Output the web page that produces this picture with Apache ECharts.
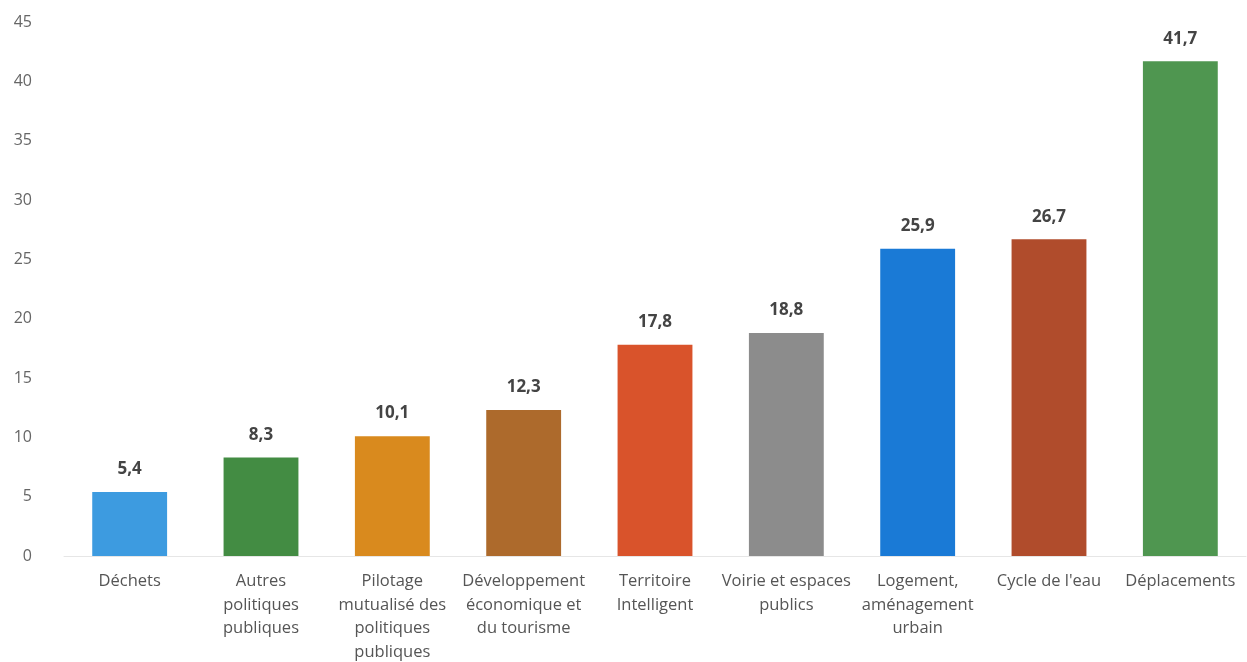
<!DOCTYPE html>
<html>
<head>
<meta charset="utf-8">
<script src="https://cdn.jsdelivr.net/npm/echarts@6/dist/echarts.min.js"></script>
<style>html,body{margin:0;padding:0;background:#fff;}#c{width:1247px;height:662px;}</style>
</head>
<body>
<div id="c"></div>
<script>
const categories = [
  "Déchets",
  "Autres\npolitiques\npubliques",
  "Pilotage\nmutualisé des\npolitiques\npubliques",
  "Développement\néconomique et\ndu tourisme",
  "Territoire\nIntelligent",
  "Voirie et espaces\npublics",
  "Logement,\naménagement\nurbain",
  "Cycle de l'eau",
  "Déplacements"
];
const values = [5.4, 8.3, 10.1, 12.3, 17.8, 18.8, 25.9, 26.7, 41.7];
const barColors = ["#3d9be0", "#438c43", "#d98a1e", "#ad6a2c", "#d9532b", "#8c8c8c", "#1a7ad6", "#b04c2c", "#4f9650"];
const yTicks = [0, 5, 10, 15, 20, 25, 30, 35, 40, 45];

const chart = echarts.init(document.getElementById('c'));
chart.setOption({
  animation: false,
  grid: { left: 64, right: 1, top: 22, bottom: 106, outerBoundsMode: 'none', containLabel: false },
  xAxis: {
    type: 'category',
    data: categories,
    axisLine: { show: true, lineStyle: { color: '#e6e6e6' } },
    axisTick: { show: false },
    axisLabel: {
      interval: 0, margin: 14,
      fontFamily: 'Open Sans', fontSize: 16.5, color: '#555', lineHeight: 23.5
    }
  },
  yAxis: {
    type: 'value',
    min: yTicks[0], max: yTicks[yTicks.length - 1], interval: 5,
    splitLine: { show: false },
    axisLine: { show: false },
    axisTick: { show: false },
    axisLabel: { margin: 32, fontFamily: 'Open Sans', fontSize: 16, color: '#666' }
  },
  series: [{
    type: 'bar',
    barWidth: '57%',
    data: values.map((v, i) => ({ value: v, itemStyle: { color: barColors[i] } })),
    label: {
      show: true, position: 'top', distance: 14,
      fontFamily: 'Open Sans', fontWeight: 'bold', fontSize: 17, color: '#444',
      formatter: p => String(p.value).replace('.', ',')
    }
  }]
});
</script>
</body>
</html>
